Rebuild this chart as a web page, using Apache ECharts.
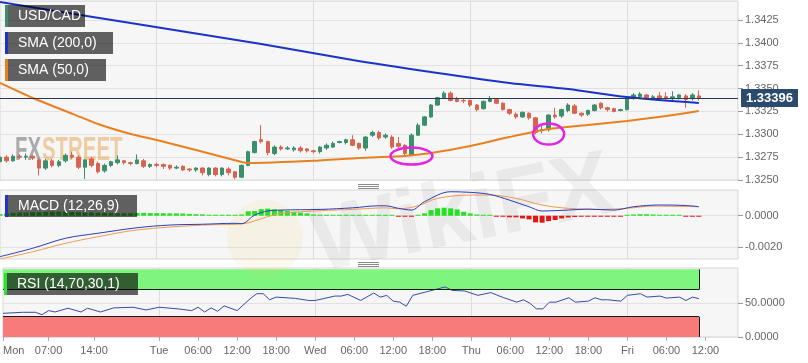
<!DOCTYPE html>
<html><head><meta charset="utf-8">
<script src="https://cdn.jsdelivr.net/npm/echarts@6/dist/echarts.min.js"></script>
<style>html,body{margin:0;padding:0;background:#fff}#c{width:808px;height:363px}</style>
</head><body><div id="c"></div>
<script>
// ---- hourly slots (Mon 00:00 ...) ----
const days = ['Mon','Tue','Wed','Thu','Fri'];
const categories = [];
for (let d = 0; d < days.length; d++) for (let h = 0; h < 24; h++) categories.push(days[d] + ' ' + String(h).padStart(2,'0') + ':00');
categories.length = 114;

// ---- x tick labels ----
const tickIdx  = [0,7,14,24,30,36,42,48,54,60,66,72,78,84,90,96,102,108];
const tickText = ['Mon','07:00','14:00','Tue','06:00','12:00','18:00','Wed','06:00','12:00','18:00','Thu','06:00','12:00','18:00','Fri','06:00','12:00'];
const dayIdx   = [24,48,72,96];

// ---- USD/CAD hourly candles ----
const open = [
1.3270,1.3275,1.3271,1.3276,1.3275,1.3276,1.3272,1.3263,1.3271,1.3266,
1.3271,1.3277,1.3275,1.3264,1.3273,1.3268,1.3260,1.3266,1.3269,1.3271,
1.3269,1.3268,1.3271,1.3265,1.3267,1.3267,1.3266,1.3263,1.3265,1.3262,
1.3261,1.3263,1.3256,1.3263,1.3256,1.3262,1.3259,1.3253,1.3266,1.3280,
1.3294,1.3292,1.3279,1.3286,1.3284,1.3283,1.3285,1.3284,1.3282,1.3281,
1.3285,1.3286,1.3291,1.3291,1.3294,1.3290,1.3285,1.3299,1.3302,1.3297,
1.3297,1.3290,1.3288,1.3277,1.3299,1.3310,1.3319,1.3332,1.3340,1.3345,
1.3339,1.3337,1.3337,1.3332,1.3328,1.3336,1.3338,1.3334,1.3327,1.3322,
1.3319,1.3323,1.3318,1.3304,1.3305,1.3321,1.3320,1.3326,1.3331,1.3323,
1.3322,1.3326,1.3334,1.3329,1.3328,1.3326,1.3327,1.3339,1.3341,1.3343,
1.3340,1.3342,1.3341,1.3339,1.3340,1.3342,1.3339,1.3342];
const close = [
1.3275,1.3271,1.3276,1.3275,1.3276,1.3274,1.3263,1.3271,1.3266,1.3270,
1.3277,1.3275,1.3264,1.3272,1.3266,1.3259,1.3266,1.3270,1.3272,1.3269,
1.3268,1.3272,1.3265,1.3267,1.3266,1.3265,1.3263,1.3264,1.3261,1.3261,
1.3263,1.3258,1.3263,1.3256,1.3263,1.3258,1.3253,1.3266,1.3281,1.3292,
1.3292,1.3280,1.3286,1.3284,1.3285,1.3285,1.3282,1.3282,1.3281,1.3286,
1.3288,1.3290,1.3292,1.3294,1.3288,1.3285,1.3297,1.3302,1.3296,1.3299,
1.3286,1.3287,1.3279,1.3299,1.3310,1.3319,1.3332,1.3340,1.3345,1.3337,
1.3336,1.33365,1.3332,1.3327,1.3336,1.3339,1.3334,1.3327,1.3323,1.3319,
1.3324,1.3318,1.3302,1.3305,1.3321,1.3319,1.3327,1.3332,1.3323,1.3321,
1.3326,1.3332,1.3329,1.3327,1.3325,1.3327,1.3339,1.3343,1.3344,1.3340,
1.3341,1.3340,1.3339,1.3341,1.3343,1.3338,1.3343,1.33396];
const low = [
1.3268,1.3269,1.3270,1.3273,1.3272,1.3272,1.3255,1.3261,1.3264,1.3264,
1.3269,1.3273,1.3262,1.3251,1.3264,1.3257,1.3258,1.3264,1.3267,1.3267,
1.3266,1.3267,1.3263,1.3263,1.3264,1.3262,1.3261,1.3262,1.3260,1.3259,
1.3259,1.3255,1.3254,1.3254,1.3254,1.3255,1.3251,1.3252,1.3265,1.3279,
1.3290,1.3277,1.3277,1.3282,1.3283,1.3281,1.3280,1.3280,1.3279,1.3279,
1.3283,1.3285,1.3290,1.3289,1.3287,1.3283,1.3282,1.3297,1.3294,1.3295,
1.3284,1.3285,1.3276,1.3276,1.3298,1.3309,1.3318,1.3331,1.3339,1.3336,
1.3335,1.3334,1.3330,1.3325,1.3327,1.3335,1.3333,1.3326,1.3321,1.3317,
1.3318,1.3316,1.3300,1.3301,1.3303,1.3317,1.3318,1.3324,1.3322,1.3319,
1.3320,1.3325,1.3327,1.3325,1.3324,1.3325,1.3326,1.3338,1.3339,1.3338,
1.3338,1.3338,1.3336,1.3336,1.3338,1.3329,1.3337,1.3337];
const high = [
1.3277,1.3277,1.3278,1.3278,1.3279,1.3277,1.3274,1.3273,1.3273,1.3272,
1.3279,1.3281,1.3277,1.3273,1.3275,1.3270,1.3268,1.3271,1.3277,1.3272,
1.3270,1.3278,1.3273,1.3268,1.3269,1.3268,1.3267,1.3266,1.3266,1.3263,
1.3264,1.3264,1.3264,1.3264,1.3264,1.3264,1.3260,1.3267,1.3282,1.3293,
1.3310,1.3293,1.3288,1.3288,1.3287,1.3287,1.3287,1.3285,1.3283,1.3287,
1.3290,1.3292,1.3293,1.3295,1.3299,1.3291,1.3298,1.3304,1.3304,1.3301,
1.3299,1.3297,1.3289,1.3301,1.3312,1.3320,1.3333,1.3341,1.3347,1.3347,
1.3341,1.3339,1.3338,1.3333,1.3337,1.3342,1.3339,1.3335,1.3328,1.3324,
1.3325,1.3324,1.3319,1.3309,1.3322,1.3329,1.3328,1.3334,1.3333,1.3324,
1.3327,1.3333,1.3335,1.3330,1.3329,1.3328,1.3340,1.3345,1.3346,1.3344,
1.3343,1.3346,1.3346,1.3347,1.3344,1.3344,1.3345,1.3348];
const lastPrice = 1.33396;

// ---- moving averages (vertices) ----
const sma200Idx = [0,20,40,54,66,78,87,96,107];
const sma200Val = [1.34447,1.34217,1.33987,1.33812,1.33681,1.33561,1.33495,1.33408,1.33342];
const sma50Idx = [0,5,10,15,20,24,30,37,38,48,55,62,66,72,78,84,90,96,102,107];
const sma50Val = [1.33561,1.33397,1.33255,1.33112,1.33003,1.32937,1.32828,1.32697,1.32686,1.32710,1.32741,1.32762,1.32795,1.32872,1.32970,1.33058,1.33101,1.33145,1.33200,1.33255];

// ---- MACD (12,26,9) ----
const macdIdx = [0,5,10,15,21,26,31,36,37,39,41,43,49,54,58,59,61,63,65,69,72,75,78,81,83,87,90,94,97,101,105,107];
const macdVal = [-0.00259,-0.00206,-0.00143,-0.00111,-0.00076,-0.00059,-0.00054,-0.00048,-0.0005,0.00004,0.0003,0.00036,0.0004,0.0005,0.00063,0.00063,0.00047,0.00036,0.00089,0.00152,0.00148,0.00135,0.00099,0.00057,0.0003,0.00036,0.00042,0.00036,0.00057,0.00068,0.00065,0.00057];
const signalIdx = [0,5,10,15,21,31,37,41,43,49,54,59,61,64,67,72,75,79,83,87,92,96,100,107];
const signalVal = [-0.00274,-0.00228,-0.00175,-0.00133,-0.0009,-0.00059,-0.00052,-0.00006,0.00015,0.00032,0.0004,0.0005,0.00044,0.00063,0.0011,0.00131,0.00131,0.0011,0.00068,0.00047,0.0004,0.00047,0.00061,0.00057];
const hist = [
0.00010,0.00015,0.00018,0.00020,0.00020,0.00022,0.00022,0.00024,0.00025,0.00026,
0.00026,0.00024,0.00022,0.00020,0.00020,0.00019,0.00018,0.00017,0.00016,0.00016,
0.00016,0.00017,0.00018,0.00017,0.00016,0.00016,0.00015,0.00015,0.00014,0.00011,
0.00010,0.00009,0.00005,0.00004,0.00004,0.00003,0.00003,0.00008,0.00028,0.00030,
0.00042,0.00045,0.00040,0.00036,0.00030,0.00025,0.00020,0.00015,0.00008,0.00007,
0.00006,0.00006,0.00006,0.00007,0.00006,0.00005,0.00006,0.00006,0.00005,0.00004,
0.00002,-0.00003,-0.00004,-0.00002,0.00002,0.00015,0.00036,0.00047,0.00051,0.00047,
0.00040,0.00025,0.00015,0.00008,0.00005,0.00004,-0.00002,-0.00006,-0.00010,-0.00010,
-0.00017,-0.00023,-0.00042,-0.00044,-0.00034,-0.00027,-0.00017,-0.00011,-0.00008,-0.00006,
-0.00005,-0.00002,-0.00002,-0.00002,-0.00002,-0.00002,0.00004,0.00008,0.00010,0.00010,
0.00008,0.00006,0.00005,0.00004,0.00003,-0.00002,-0.00002,-0.00002];

// ---- RSI (14,70,30,1) ----
const rsiIdx = [0,3,5,6,7,8,10,12,13,15,17,20,22,24,27,29,30,31,32,33,34,36,38,39,40,41,42,45,47,48,51,52,53,55,57,58,59,60,61,62,63,65,67,68,69,71,73,75,77,79,80,81,82,83,84,85,87,88,90,91,92,93,95,96,98,99,101,102,104,105,106,107];
const rsiVal = [35,36.5,36.5,33,39,37,42.5,37,42.5,37,43,44,40,44,41.5,39,44,37,43,38,46,39,56.6,64,64,55,59,57,54,54,60.5,60.5,63,54,65,59,61.5,53,51.5,45.5,61.6,66.5,71.6,74,69,68,61.6,65.6,58,51.5,55,50,41.6,41.6,51.5,51.5,58,51.5,53,58,55,55,53,61.6,64,59,60.5,57.5,59,54,59,56.6];
const rsiUpper = 70, rsiLower = 30;

// ---- annotation ellipses (data coords) ----
const marks = [[62.5, 1.32762, 21, 8.5], [83.5, 1.33003, 15.5, 10.5]];

const pairs = (a, b) => a.map((x, i) => [x, b[i]]);
const candles = open.map((o, i) => [o, close[i], low[i], high[i]]);
const lastI = open.length - 1;
const FONT = 'Liberation Sans, Arial, sans-serif';
const UP = '#3a8f6c', DOWN = '#d9634e';

const chart = echarts.init(document.getElementById('c'), null, {renderer: 'canvas'});

const gridBase = {left: 0, width: 738, show: true, backgroundColor: '#f6f6f6', borderColor: '#d6d6d6', borderWidth: 1};
const xAx = g => ({
  type: 'category', gridIndex: g, data: categories, boundaryGap: false,
  axisLine: {show: false},
  axisTick: {show: g === 2, interval: i => tickIdx.includes(i), length: 4, lineStyle: {color: '#aaa'}},
  axisLabel: {show: g === 2, interval: i => tickIdx.includes(i), color: '#666', fontSize: 11, fontFamily: FONT, margin: 8,
    alignMinLabel: 'left',
    formatter: v => { const k = tickIdx.indexOf(categories.indexOf(v)); return k >= 0 ? tickText[k] : ''; }},
  splitLine: {show: true, interval: i => dayIdx.includes(i), lineStyle: {color: '#dcdcdc'}}
});
const yBase = {
  type: 'value', position: 'right', axisLine: {show: false},
  axisTick: {show: true, length: 5, lineStyle: {color: '#999'}},
  splitLine: {show: true, lineStyle: {color: '#e2e2e2'}}
};

const option = {
  animation: false,
  backgroundColor: '#ffffff',
  textStyle: {fontFamily: FONT},
  grid: [
    Object.assign({}, gridBase, {top: 1, height: 179}),
    Object.assign({}, gridBase, {top: 190, height: 69}),
    Object.assign({}, gridBase, {top: 268, height: 69})
  ],
  xAxis: [xAx(0), xAx(1), xAx(2)],
  yAxis: [
    Object.assign({}, yBase, {gridIndex: 0, min: 1.3250, max: 1.34458, interval: 0.0025,
      axisLabel: {color: '#666', fontSize: 11, fontFamily: FONT, margin: 7, showMaxLabel: false, formatter: v => v.toFixed(4)}}),
    Object.assign({}, yBase, {gridIndex: 1, min: -0.00274, max: 0.00163,
      axisTick: {show: true, length: 5, lineStyle: {color: '#999'}, customValues: [-0.002, 0]},
      axisLabel: {color: '#666', fontSize: 11, fontFamily: FONT, margin: 7, customValues: [-0.002, 0], formatter: v => v.toFixed(4)}}),
    Object.assign({}, yBase, {gridIndex: 2, min: 0, max: 102,
      axisTick: {show: true, length: 5, lineStyle: {color: '#999'}, customValues: [0, 50]},
      axisLabel: {color: '#666', fontSize: 11, fontFamily: FONT, margin: 7, customValues: [0, 50], formatter: v => v.toFixed(4)}})
  ],
  series: [
    {type: 'candlestick', name: 'USD/CAD', xAxisIndex: 0, yAxisIndex: 0, data: candles, barWidth: 4, clip: true, z: 3,
     itemStyle: {color: UP, color0: DOWN, borderColor: UP, borderColor0: DOWN, borderWidth: 1}},
    {type: 'line', name: 'SMA (200,0)', xAxisIndex: 0, yAxisIndex: 0, data: pairs(sma200Idx, sma200Val), showSymbol: false,
     smooth: 0.3, lineStyle: {color: '#1b33c8', width: 2}, z: 4,
     markLine: {silent: true, symbol: ['none', 'none'], animation: false, precision: 5,
       lineStyle: {color: '#2b3a58', width: 1, type: 'solid'},
       label: {show: true, position: 'end', distance: 3, formatter: lastPrice.toFixed(5), color: '#fff', fontWeight: 'bold',
               fontSize: 13, fontFamily: FONT, backgroundColor: '#2c4a6e', padding: [3, 5, 2, 5]},
       data: [{yAxis: lastPrice}]}},
    {type: 'line', name: 'SMA (50,0)', xAxisIndex: 0, yAxisIndex: 0, data: pairs(sma50Idx, sma50Val), showSymbol: false,
     smooth: 0.2, lineStyle: {color: '#e8801f', width: 2}, z: 4},
    {type: 'bar', name: 'hist', xAxisIndex: 1, yAxisIndex: 1, data: hist, barWidth: 5, barMinHeight: 1, z: 2,
     itemStyle: {color: p => p.value >= 0 ? '#22e322' : '#e41616'}},
    {type: 'line', name: 'MACD', xAxisIndex: 1, yAxisIndex: 1, data: pairs(macdIdx, macdVal), showSymbol: false,
     smooth: 0.35, lineStyle: {color: '#2a3cb8', width: 1}, z: 4},
    {type: 'line', name: 'Signal', xAxisIndex: 1, yAxisIndex: 1, data: pairs(signalIdx, signalVal), showSymbol: false,
     smooth: 0.35, lineStyle: {color: '#f09a50', width: 1}, z: 3},
    {type: 'line', name: 'RSI', xAxisIndex: 2, yAxisIndex: 2, data: pairs(rsiIdx, rsiVal), showSymbol: false,
     lineStyle: {color: '#3a48a8', width: 1}, z: 4,
     markArea: {silent: true, data: [
       [{coord: [categories[0], rsiUpper], itemStyle: {color: '#7ef57e'}}, {coord: [categories[lastI], 100]}],
       [{coord: [categories[0], 0], itemStyle: {color: '#f77b7b'}}, {coord: [categories[lastI], rsiLower]}]
     ]},
     markLine: {silent: true, symbol: ['none', 'none'], label: {show: false}, lineStyle: {color: '#1a1a1a', width: 1, type: 'solid'},
       data: [
         [{coord: [categories[0], rsiUpper]}, {coord: [categories[lastI], rsiUpper]}],
         [{coord: [categories[lastI], rsiUpper]}, {coord: [categories[lastI], 100]}],
         [{coord: [categories[0], rsiLower]}, {coord: [categories[lastI], rsiLower]}],
         [{coord: [categories[lastI], 0]}, {coord: [categories[lastI], rsiLower]}]
       ]}}
  ]
};
chart.setOption(option);

// ---- overlay graphics ----
function tag(x, y, w, text, stripe) {
  return [
    {type: 'rect', z: 20, shape: {x: x, y: y, width: w, height: 22}, style: {fill: 'rgba(0,0,0,0.61)'}},
    {type: 'rect', z: 21, shape: {x: x, y: y, width: 3, height: 22}, style: {fill: stripe}},
    {type: 'text', z: 21, x: x + 13, y: y + 11.5, style: {text: text, fill: '#fff', font: '14px ' + FONT, verticalAlign: 'middle'}}
  ];
}
function handle(y) {
  return [0, 2, 4].map(d => ({type: 'line', z: 20, shape: {x1: 358, y1: y + d + 0.5, x2: 379, y2: y + d + 0.5}, style: {stroke: '#8a8a8a', lineWidth: 1}}));
}
const g = [];
// watermarks
g.push({type: 'text', z: 1, x: 15, y: 134, scaleX: 0.6, style: {text: 'FX', fill: 'rgba(120,120,120,0.6)', font: 'bold 34px ' + FONT}});
g.push({type: 'text', z: 1, x: 42, y: 134, scaleX: 0.6, style: {text: 'STREET', fill: 'rgba(232,170,90,0.55)', font: 'bold 34px ' + FONT}});
g.push({type: 'circle', z: 1, shape: {cx: 265, cy: 238, r: 38}, style: {fill: 'rgba(245,200,80,0.10)'}});
g.push({type: 'text', z: 1, x: 322, y: 292, rotation: 0.2, style: {text: 'WikiFX', fill: 'rgba(140,140,140,0.12)', font: 'bold 92px ' + FONT, verticalAlign: 'bottom'}});
// labels
g.push(...tag(5, 5, 80, 'USD/CAD', UP));
g.push(...tag(5, 32, 108, 'SMA (200,0)', '#1b33c8'));
g.push(...tag(5, 59, 101, 'SMA (50,0)', '#e8801f'));
g.push(...tag(5, 195, 132, 'MACD (12,26,9)', '#2233cc'));
g.push(...tag(4, 273, 134, 'RSI (14,70,30,1)', '#33dd33'));
g.push(...handle(184));
g.push(...handle(262));
// ellipses around touches of the 50 SMA
marks.forEach(m => {
  const p = chart.convertToPixel({xAxisIndex: 0, yAxisIndex: 0}, [m[0], m[1]]);
  g.push({type: 'ellipse', z: 15, shape: {cx: p[0], cy: p[1], rx: m[2], ry: m[3]}, style: {fill: 'none', stroke: '#e424e4', lineWidth: 2.5}});
});
chart.setOption({graphic: g});
</script>
</body></html>
